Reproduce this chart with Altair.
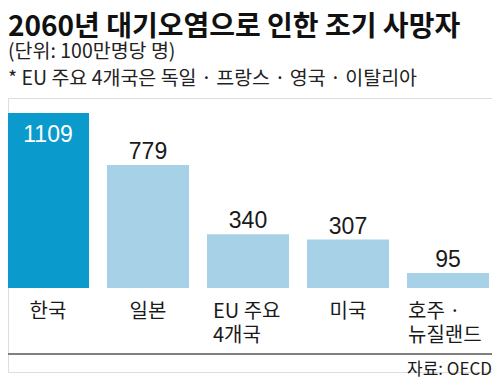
import altair as alt
import pandas as pd

categories = ["한국", "일본", "EU 주요 4개국", "미국", "호주 · 뉴질랜드"]
labels = ["한국", "일본", "EU 주요\n4개국", "미국", "호주 ·\n뉴질랜드"]
values = [1109, 779, 340, 307, 95]
highlight = [True, False, False, False, False]

title_text = "2060년 대기오염으로 인한 조기 사망자"
subtitle_lines = ["(단위: 100만명당 명)", "* EU 주요 4개국은 독일 · 프랑스 · 영국 · 이탈리아"]
source_text = "자료: OECD"

df = pd.DataFrame({"cat": categories, "label": labels, "value": values, "hl": highlight})

FONT = "Noto Sans CJK KR"
NUMFONT = "Liberation Sans"

x = alt.X("cat:N", sort=categories, axis=None,
          scale=alt.Scale(range=[-10, 490], paddingInner=0.18, paddingOuter=0.09))
yscale = alt.Scale(domain=[0, 1109], range=[190, 15], nice=False, zero=True)
y = alt.Y("value:Q", axis=None, scale=yscale)
y0 = alt.Y("zero:Q", axis=None, scale=yscale)

base = alt.Chart(df)

bars = base.mark_bar().encode(
    x=x, y=y,
    color=alt.Color("hl:N", scale=alt.Scale(domain=[True, False], range=["#0a9acc", "#a6d1e6"]), legend=None),
)

val_in = base.transform_filter("datum.hl").mark_text(
    font=NUMFONT, fontSize=23, color="white", baseline="alphabetic", dy=29
).encode(x=x, y=y, text="value:Q")

val_out = base.transform_filter("!datum.hl").mark_text(
    font=NUMFONT, fontSize=23, color="#1a1a1a", baseline="alphabetic", dy=-6
).encode(x=x, y=y, text="value:Q")

single = ["한국", "일본", "미국"]
cat_single = base.transform_filter(alt.FieldOneOfPredicate(field="cat", oneOf=single)).transform_calculate(zero="0").mark_text(
    font=FONT, fontSize=20, color="#1a1a1a", baseline="top", dy=14, lineBreak="\n", lineHeight=24
).encode(x=x, y=y0, text="label:N")

cat_eu = base.transform_filter(alt.FieldEqualPredicate(field="cat", equal="EU 주요 4개국")).transform_calculate(zero="0").mark_text(
    font=FONT, fontSize=20, color="#1a1a1a", baseline="top", align="left", dx=-35, dy=14, lineBreak="\n", lineHeight=24
).encode(x=x, y=y0, text="label:N")

cat_au = base.transform_filter(alt.FieldEqualPredicate(field="cat", equal="호주 · 뉴질랜드")).transform_calculate(zero="0").mark_text(
    font=FONT, fontSize=20, color="#1a1a1a", baseline="top", align="left", dx=-40, dy=14, lineBreak="\n", lineHeight=24
).encode(x=x, y=y0, text="label:N")

rule = alt.Chart(pd.DataFrame({"a": [0]})).mark_rule(color="#808080", strokeWidth=2).encode(
    x=alt.value(-10), x2=alt.value(500), y=alt.value(256)
)

source = alt.Chart(pd.DataFrame({"t": [source_text]})).mark_text(
    font=FONT, fontSize=17, color="#1a1a1a", align="right", baseline="middle"
).encode(x=alt.value(484), y=alt.value(272), text="t:N")

chart = alt.layer(bars, val_in, val_out, cat_single, cat_eu, cat_au, rule, source).properties(
    width=484, height=274,
    padding={"left": 0, "top": 90, "right": 0, "bottom": 8},
    autosize=alt.AutoSizeParams(type="none"),
    title=alt.TitleParams(
        text=title_text, subtitle=subtitle_lines, anchor="start", frame="group",
        font=FONT, fontSize=28, fontWeight="bold", color="#111111",
        subtitleFont=FONT, subtitleFontSize=19.5, subtitleColor="#222222",
        subtitleLineHeight=27, subtitlePadding=1, offset=10,
    ),
).configure_view(stroke=None).configure(background="white")

chart.save("out.html", embed_options={"renderer": "svg", "actions": False})
